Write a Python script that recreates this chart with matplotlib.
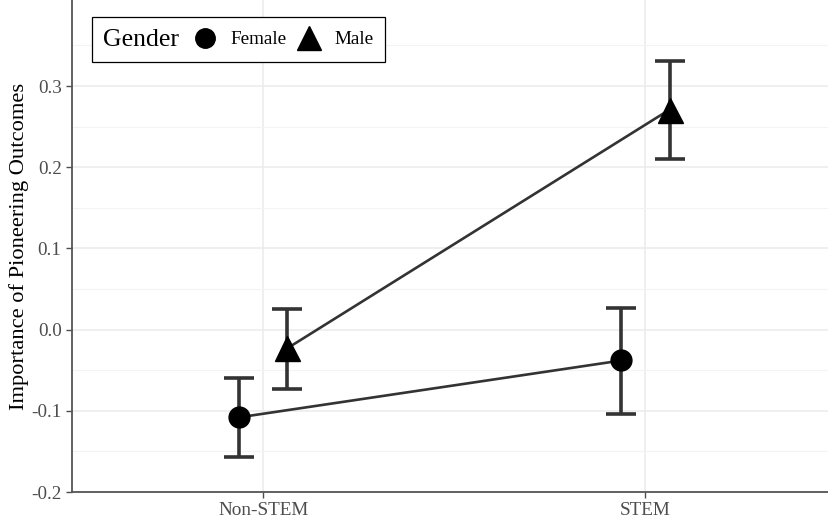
import numpy as np
import matplotlib.pyplot as plt
from matplotlib.lines import Line2D
from matplotlib.offsetbox import HPacker

plt.rcParams['font.family'] = ['Liberation Serif', 'DejaVu Serif']

categories = ["Non-STEM", "STEM"]
genders = ["Female", "Male"]
means = {"Female": [-0.108, -0.038], "Male": [-0.023, 0.271]}
lower = {"Female": [-0.157, -0.104], "Male": [-0.073, 0.210]}
upper = {"Female": [-0.060, 0.027], "Male": [0.025, 0.331]}
markers = {"Female": "o", "Male": "^"}
msize = {"Female": 15, "Male": 18}
dodge = {"Female": -0.063, "Male": 0.063}

fig = plt.figure(figsize=(8.29, 5.2), dpi=100)
ax = fig.add_axes([0.0869, 0.0538, 0.9131, 0.9462])

x = np.arange(len(categories))
for g in genders:
    xs = x + dodge[g]
    m = np.array(means[g])
    lo = m - np.array(lower[g])
    hi = np.array(upper[g]) - m
    ax.errorbar(xs, m, yerr=[lo, hi], fmt="none", ecolor="#333333",
                elinewidth=2.6, capsize=11, capthick=2.6, zorder=2)
    ax.plot(xs, m, color="#333333", lw=1.9, zorder=3)
    ax.plot(xs, m, linestyle="none", marker=markers[g], color="black",
            markersize=msize[g], zorder=4)

ax.set_xlim(-0.5, 1.48)
ax.set_ylim(-0.2, 0.406)
ax.set_xticks(x)
ax.set_xticklabels(categories)
ax.set_yticks([-0.2, -0.1, 0.0, 0.1, 0.2, 0.3])
ax.set_yticklabels(["-0.2", "-0.1", "0.0", "0.1", "0.2", "0.3"])
ax.set_yticks(np.arange(-0.15, 0.4, 0.1), minor=True)
ax.grid(True, which="major", color="#EBEBEB", lw=1.1)
ax.grid(True, which="minor", axis="y", color="#F3F3F3", lw=0.8)
ax.set_axisbelow(True)
ax.tick_params(axis="both", colors="#4D4D4D", labelsize=13.8, length=4, width=1)
ax.tick_params(axis="y", which="minor", length=0)
for s in ["top", "right"]:
    ax.spines[s].set_visible(False)
for s in ["left", "bottom"]:
    ax.spines[s].set_color("#555555")
    ax.spines[s].set_linewidth(1.3)
ax.set_ylabel("Importance of Pioneering Outcomes", fontsize=16.2, color="black", labelpad=1.5)

handles = [Line2D([], [], linestyle="none", marker=markers[g], color="black",
                  markersize=msize[g] - 1) for g in genders]
leg = ax.legend(handles, genders, title="Gender", ncol=2, loc="upper left",
                bbox_to_anchor=(0.026, 0.9654), borderaxespad=0,
                fontsize=13.8, title_fontsize=18.5,
                frameon=True, fancybox=False, edgecolor="black", framealpha=1,
                handlelength=1.4, handletextpad=0.6, columnspacing=0.5,
                borderpad=0.6)
leg.get_frame().set_linewidth(0.9)
fs = leg._fontsize
leg._legend_box = HPacker(pad=leg.borderpad * fs, sep=0.65 * fs, align="center",
                          children=[leg._legend_title_box, leg._legend_handle_box])
leg._legend_box.set_figure(fig)
leg._legend_box.axes = ax
leg._legend_box.set_offset(leg._findoffset)

fig.savefig("out.png", dpi=100)
